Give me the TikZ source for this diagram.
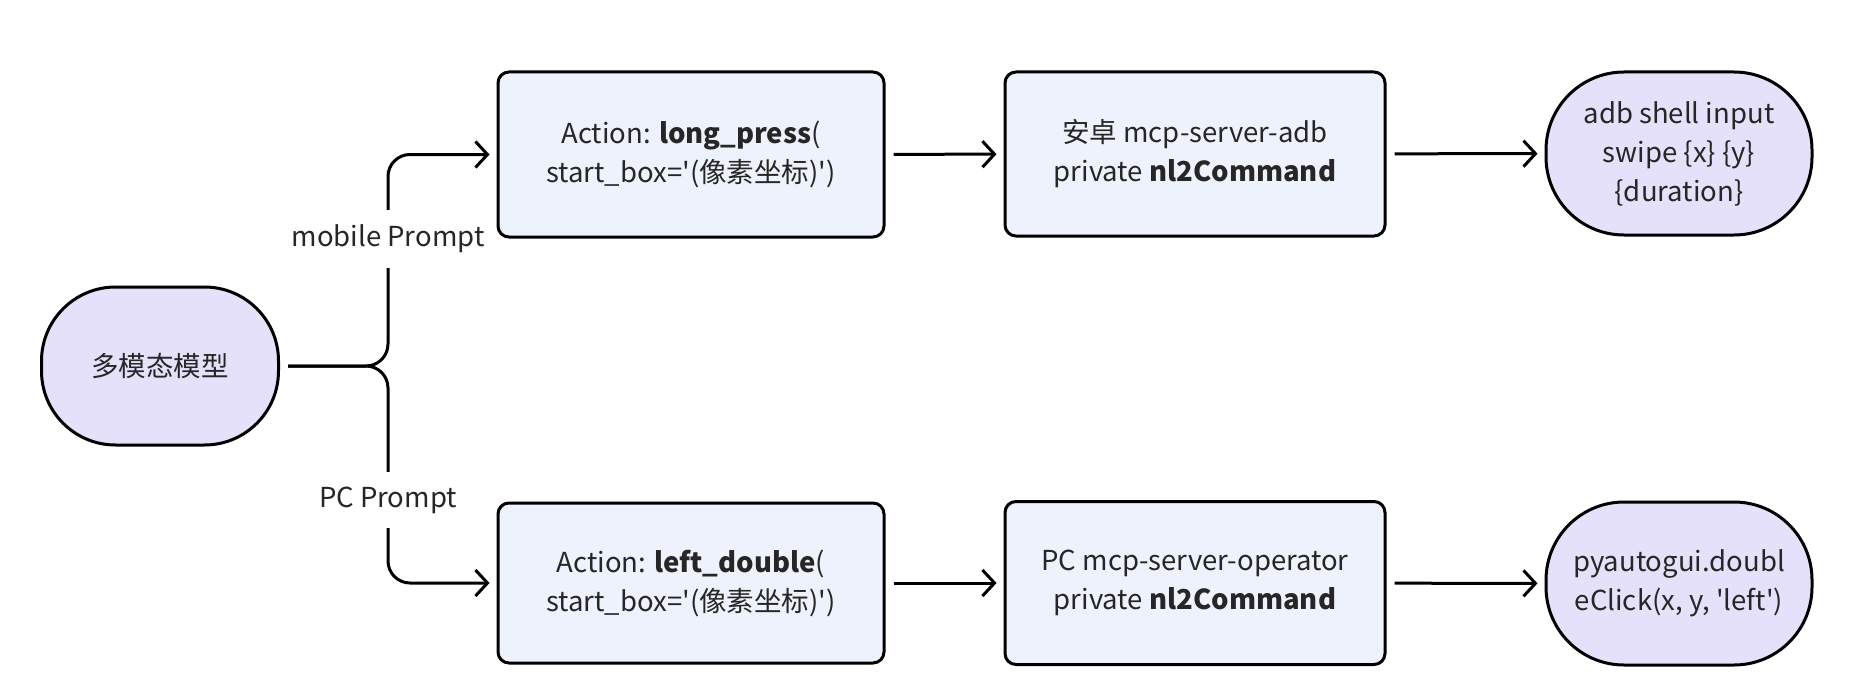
\documentclass[tikz,border=0pt]{standalone}
\usepackage{fontspec}
\setmainfont{Noto Sans CJK SC}[Ligatures=TeXOff]
\usetikzlibrary{arrows.meta}
\definecolor{boxfill}{HTML}{EEF2FD}
\definecolor{pillfill}{HTML}{E5E1FA}
\definecolor{txt}{HTML}{262626}
\tikzset{
  base/.style={draw=black, line width=3pt, text=txt, align=center,
    font=\fontsize{27.5}{39}\selectfont, inner sep=0pt},
  boxnode/.style={base, fill=boxfill, rounded corners=11pt},
  pill/.style={base, fill=pillfill, rounded corners=78pt},
  conn/.style={line width=3pt, -{Straight Barb[length=12pt,width=26pt]}, shorten >=7pt, shorten <=8pt},
  lbl/.style={fill=white, text=txt, font=\fontsize{27.5}{30}\selectfont, inner xsep=2pt, inner ysep=15pt}
}
\begin{document}
\begin{tikzpicture}[x=1pt,y=-1pt]
\useasboundingbox (0,0) rectangle (1870,698);
% nodes
\node[pill, minimum width=237pt, minimum height=158pt, rounded corners=74pt] (m) at (160,366) {多模态模型};
\node[boxnode, minimum width=386pt, minimum height=165pt] (b1) at (691,154.5) {Action: \textbf{long\_press}(\\start\_box='(像素坐标)')};
\node[boxnode, minimum width=380pt, minimum height=164pt] (b2) at (1195,154) {安卓 mcp-server-adb\\private \textbf{nl2Command}};
\node[pill, minimum width=266pt, minimum height=163pt] (t3) at (1679,153.5) {adb shell input\\swipe \{x\} \{y\}\\\{duration\}};
\node[boxnode, minimum width=386pt, minimum height=160pt] (c1) at (691,583) {Action: \textbf{left\_double}(\\start\_box='(像素坐标)')};
\node[boxnode, minimum width=380pt, minimum height=163pt] (c2) at (1195,583) {PC mcp-server-operator\\private \textbf{nl2Command}};
\node[pill, minimum width=266pt, minimum height=163pt] (t3b) at (1679,583.5) {pyautogui.doubl\\eClick(x, y, 'left')};
% branch coordinates
\coordinate (j) at (388,366);
% connectors
\draw[conn, rounded corners=22pt] (m.east) -- (j) -- (j |- b1.west) -- (b1.west);
\draw[conn, rounded corners=22pt] (m.east) -- (j) -- (j |- c1.west) -- (c1.west);
\draw[conn] (b1) -- (b2);
\draw[conn] (b2) -- (t3);
\draw[conn] (c1) -- (c2);
\draw[conn] (c2) -- (t3b);
% labels
\node[lbl] (l1) at (388,239) {mobile Prompt};
\node[lbl] (l2) at (388,500) {PC Prompt};
\end{tikzpicture}
\end{document}
